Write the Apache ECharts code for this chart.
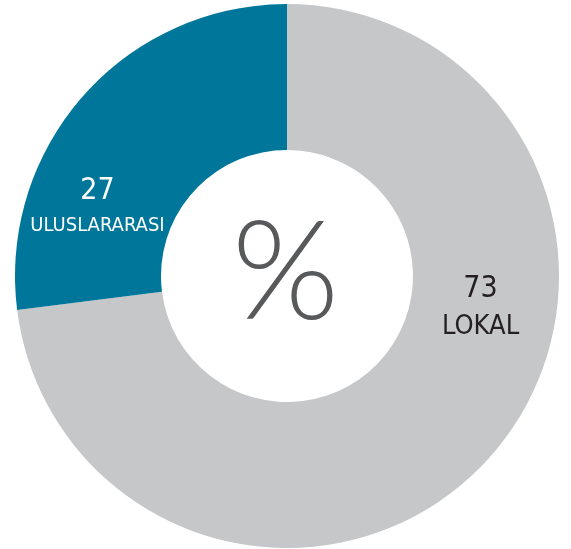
<!DOCTYPE html>
<html>
<head>
<meta charset="utf-8">
<script src="https://cdn.jsdelivr.net/npm/echarts@6/dist/echarts.min.js"></script>
<style>
  html, body { margin: 0; padding: 0; background: #fff; }
  #chart { width: 571px; height: 549px; }
</style>
</head>
<body>
<div id="chart"></div>
<script>
const categories = ['LOKAL', 'ULUSLARARASI']
const values = [73, 27]
const sliceColors = ['#C6C7C9', '#00779A']
const labelColors = ['#231F20', '#FFFFFF']
// nudges so the labels sit where the reference puts them
const labelOffsets = [[42, -102], [-38, 64]]

const chart = echarts.init(document.getElementById('chart'))

chart.setOption({
  animation: false,
  graphic: [{
    type: 'text',
    left: 'center',
    top: 'middle',
    x: 4,
    y: 0,
    style: {
      text: '%',
      fill: '#58595B',
      font: '300 138px Lato, "DejaVu Sans", sans-serif',
      textAlign: 'center',
      textVerticalAlign: 'middle'
    }
  }],
  series: [{
    type: 'pie',
    center: [287, 276],
    radius: [126, 272],
    startAngle: 90,
    clockwise: true,
    silent: true,
    labelLine: { show: false },
    data: categories.map((name, i) => ({
      name: name,
      value: values[i],
      itemStyle: { color: sliceColors[i] },
      label: {
        show: true,
        position: 'inside',
        offset: labelOffsets[i],
        formatter: '{v|{c}}\n{n|{b}}',
        rich: {
          v: {
            color: labelColors[i],
            fontSize: 30,
            fontFamily: '"Liberation Sans Narrow", "DejaVu Sans Condensed", sans-serif',
            lineHeight: 38,
            align: 'center'
          },
          n: {
            color: labelColors[i],
            fontSize: i === 0 ? 27 : 20,
            fontFamily: '"Liberation Sans Narrow", "DejaVu Sans Condensed", sans-serif',
            lineHeight: i === 0 ? 36 : 30,
            align: 'center'
          }
        }
      }
    }))
  }]
})
</script>
</body>
</html>
